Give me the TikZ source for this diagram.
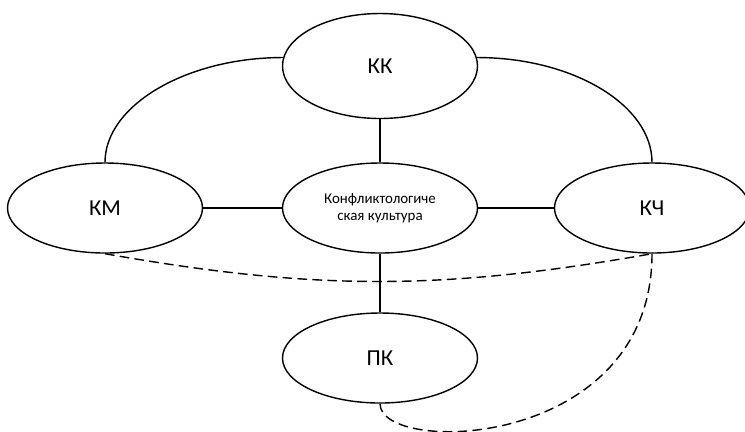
\documentclass[tikz,border=0pt]{standalone}
\usepackage{fontspec}
\setmainfont{Carlito}
\usepackage{tikz}
\usetikzlibrary{shapes.geometric}

\tikzset{
  oval/.style={ellipse, draw, line width=0.8pt, inner sep=0pt,
    minimum width=3.9cm, minimum height=1.8cm,
    font=\fontsize{13}{15}\selectfont},
  link/.style={line width=0.8pt},
  weaklink/.style={line width=0.8pt, dash pattern=on 5.5pt off 3pt}
}

\begin{document}
\begin{tikzpicture}
    \useasboundingbox (0,0) rectangle (14.9,-8.62);
    \node[oval, minimum height=2.1cm] (kk) at (7.6,-1.32) {КК};
    \node[oval] (km) at (2.1,-4.16) {КМ};
    \node[oval, font=\fontsize{8.5}{10}\selectfont, align=center] (kult) at (7.6,-4.16) {Конфликтологиче\\ская культура};
    \node[oval] (kch) at (13.04,-4.16) {КЧ};
    \node[oval] (pk) at (7.6,-7.16) {ПК};
    \foreach \n in {kk, km, kch, pk}
      \draw[link] (kult) -- (\n);
    \draw[link] (kk.175) .. controls +(-1.93,0) and +(0,1.14) .. (km.north);
    \draw[link] (kk.5) .. controls +(1.93,0) and +(0,1.14) .. (kch.north);
    \draw[weaklink] (km.south) to[out=-10, in=190] (kch.south);
    \draw[weaklink] (kch.south) .. controls +(0,-3.94) and +(0,-1.04) .. (pk.south);
  \end{tikzpicture}
\end{document}
